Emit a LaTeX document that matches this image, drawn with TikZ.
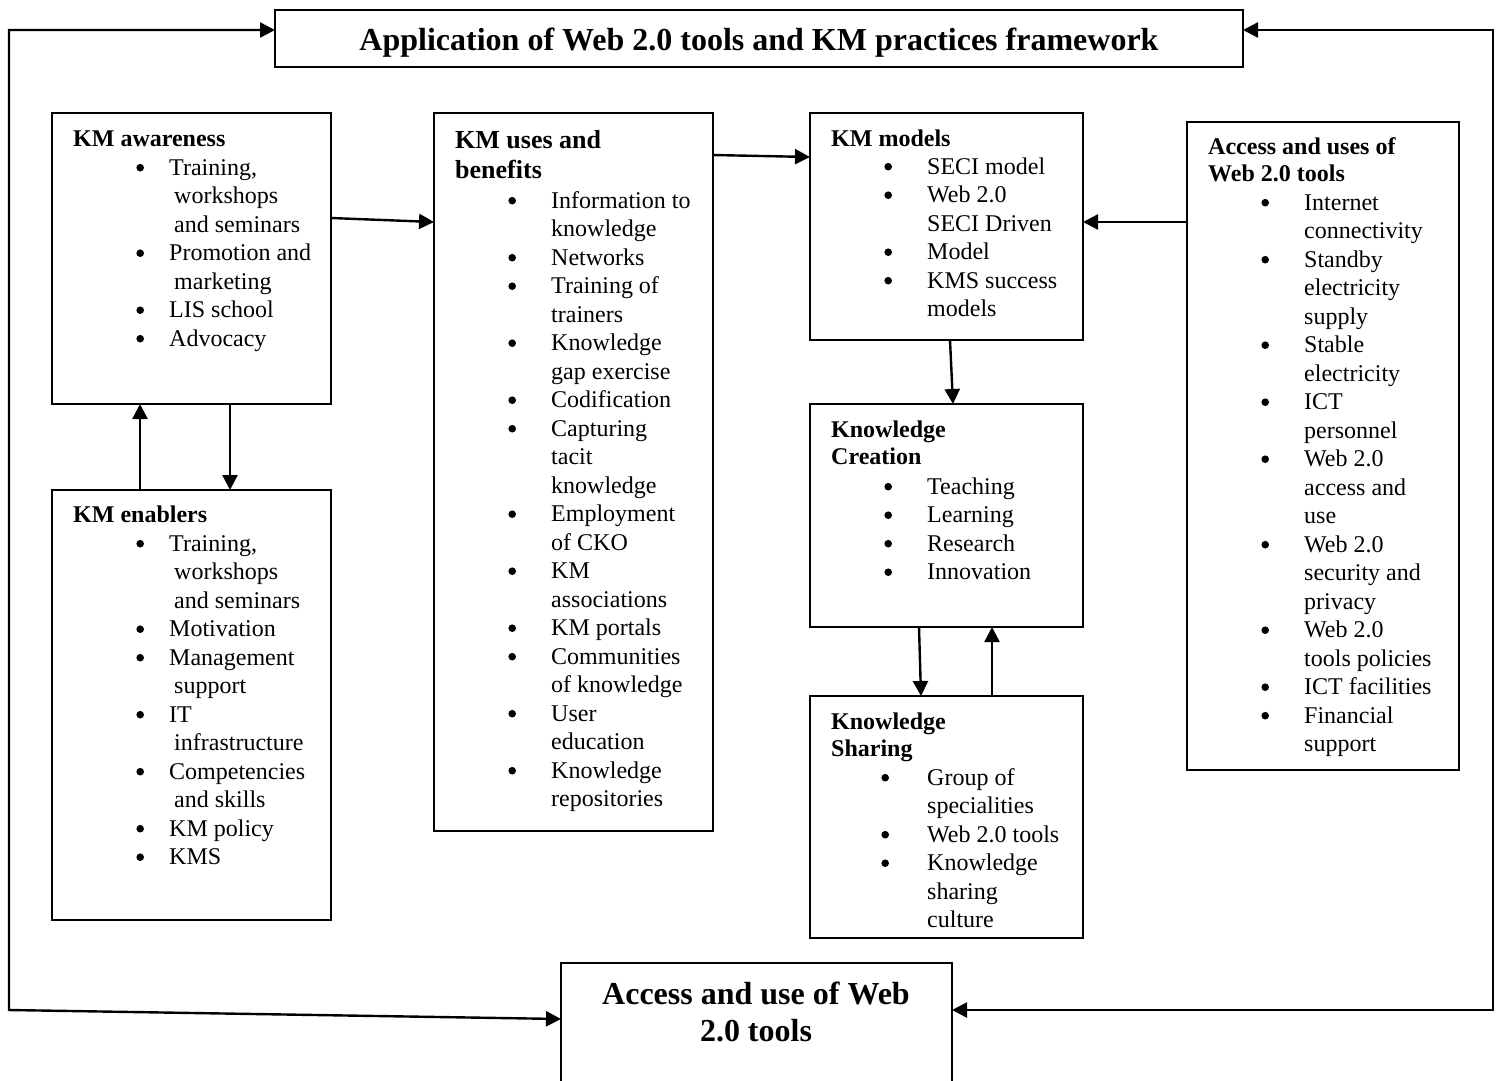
\documentclass[tikz,border=0pt]{standalone}
\usepackage{fontspec}
\setmainfont{Liberation Serif}
\usetikzlibrary{arrows.meta,calc}

% distance from a bullet's centre to the start of its item text
\newlength\bgap
\newcommand\bigbullet{\raisebox{3.5pt}{\tikz\fill (0pt,0pt) circle[radius=3.8pt];}}
\newcommand\bitem{\llap{\makebox[0pt]{\bigbullet}\hspace{\bgap}}}
\newcommand\cont{\hspace{5pt}}

\tikzset{
  box/.style={draw, line width=1.6pt, inner sep=0pt, outer sep=0pt, anchor=north west},
  head/.style={font=\fontsize{24}{27.5}\selectfont\bfseries, anchor=base west, inner sep=0pt},
  items/.style={font=\fontsize{24}{28.5}\selectfont, anchor=base west, inner sep=0pt,
    execute at begin node={\setlength\bgap{#1}}},
  link/.style={line width=2.4pt, -{Triangle[length=15pt,width=15pt]}},
  link2/.style={line width=2.4pt, {Triangle[length=15pt,width=15pt]}-{Triangle[length=15pt,width=15pt]}},
}

\begin{document}
\begin{tikzpicture}[x=1pt,y=-1pt]
\useasboundingbox (0,0) rectangle (1496,1080);
\clip (0,0) rectangle (1496,1080);

% framework title
\node[box, minimum width=968pt, minimum height=57pt] (title) at (275,10) {};
\node[font=\fontsize{32}{37}\selectfont\bfseries, anchor=base, inner sep=0pt] (titletext) at (759,50)
  {Application of Web 2.0 tools and KM practices framework};

% KM awareness
\node[box, minimum width=279pt, minimum height=291pt] (aware) at (52,113) {};
\node[head] (awareh) at (73,146) {KM awareness};
\node[items=29pt] (awarel) at (169,175) {\begin{tabular}[t]{@{}l@{}}
  \bitem Training,\\ \cont workshops\\ \cont and seminars\\
  \bitem Promotion and\\ \cont marketing\\
  \bitem LIS school\\
  \bitem Advocacy\end{tabular}};

% KM enablers
\node[box, minimum width=279pt, minimum height=430pt] (enab) at (52,490) {};
\node[head] (enabh) at (73,522) {KM enablers};
\node[items=29pt] (enabl) at (169,551) {\begin{tabular}[t]{@{}l@{}}
  \bitem Training,\\ \cont workshops\\ \cont and seminars\\
  \bitem Motivation\\
  \bitem Management\\ \cont support\\
  \bitem IT\\ \cont infrastructure\\
  \bitem Competencies\\ \cont and skills\\
  \bitem KM policy\\
  \bitem KMS\end{tabular}};

% KM uses and benefits
\node[box, minimum width=279pt, minimum height=718pt] (uses) at (434,113) {};
\node[font=\fontsize{26}{30}\selectfont\bfseries, anchor=base west, inner sep=0pt] (usesh) at (455,148)
  {\begin{tabular}[t]{@{}l@{}}KM uses and\\ benefits\end{tabular}};
\node[items=39pt] (usesl) at (551,208) {\begin{tabular}[t]{@{}l@{}}
  \bitem Information to\\ knowledge\\
  \bitem Networks\\
  \bitem Training of\\ trainers\\
  \bitem Knowledge\\ gap exercise\\
  \bitem Codification\\
  \bitem Capturing\\ tacit\\ knowledge\\
  \bitem Employment\\ of CKO\\
  \bitem KM\\ associations\\
  \bitem KM portals\\
  \bitem Communities\\ of knowledge\\
  \bitem User\\ education\\
  \bitem Knowledge\\ repositories\end{tabular}};

% KM models
\node[box, minimum width=273pt, minimum height=227pt] (models) at (810,113) {};
\node[head] (modelsh) at (831,146) {KM models};
\node[items=39pt] (modelsl) at (927,174) {\begin{tabular}[t]{@{}l@{}}
  \bitem SECI model\\
  \bitem Web 2.0\\ SECI Driven\\
  \bitem Model\\
  \bitem KMS success\\ models\end{tabular}};

% Knowledge creation
\node[box, minimum width=273pt, minimum height=223pt] (create) at (810,404) {};
\node[head] (createh) at (831,437) {\begin{tabular}[t]{@{}l@{}}Knowledge\\ Creation\end{tabular}};
\node[items=39pt] (createl) at (927,494) {\begin{tabular}[t]{@{}l@{}}
  \bitem Teaching\\
  \bitem Learning\\
  \bitem Research\\
  \bitem Innovation\end{tabular}};

% Knowledge sharing
\node[box, minimum width=273pt, minimum height=242pt] (share) at (810,696) {};
\node[head] (shareh) at (831,729) {\begin{tabular}[t]{@{}l@{}}Knowledge\\ Sharing\end{tabular}};
\node[items=42pt] (sharel) at (927,785) {\begin{tabular}[t]{@{}l@{}}
  \bitem Group of\\ specialities\\
  \bitem Web 2.0 tools\\
  \bitem Knowledge\\ sharing\\ culture\end{tabular}};

% Access and uses of Web 2.0 tools
\node[box, minimum width=272pt, minimum height=648pt] (access) at (1187,122) {};
\node[head] (accessh) at (1208,154) {\begin{tabular}[t]{@{}l@{}}Access and uses of\\ Web 2.0 tools\end{tabular}};
\node[items=39pt] (accessl) at (1304,210) {\begin{tabular}[t]{@{}l@{}}
  \bitem Internet\\ connectivity\\
  \bitem Standby\\ electricity\\ supply\\
  \bitem Stable\\ electricity\\
  \bitem ICT\\ personnel\\
  \bitem Web 2.0\\ access and\\ use\\
  \bitem Web 2.0\\ security and\\ privacy\\
  \bitem Web 2.0\\ tools policies\\
  \bitem ICT facilities\\
  \bitem Financial\\ support\end{tabular}};

% outcome box, running off the lower edge
\node[box, minimum width=391pt, minimum height=200pt] (bottom) at (561,963) {};
\node[font=\fontsize{32}{37}\selectfont\bfseries, anchor=base, inner sep=0pt] (bottomtext) at (756,1004)
  {\begin{tabular}[t]{@{}c@{}}Access and use of Web\\ 2.0 tools\end{tabular}};

% connectors between the boxes
\draw[link] ($(aware.north east)+(0,105)$) -- ($(uses.north west)+(0,109)$);
\draw[link] ($(uses.north east)+(0,42)$) -- ($(models.north west)+(0,44)$);
\draw[link] ($(access.north west)+(0,100)$) -- ($(models.north east)+(0,109)$);
\draw[link] ($(models.south west)+(140,0)$) -- ($(create.north west)+(143,0)$);
\draw[link] ($(enab.north west)+(88,0)$) -- ($(aware.south west)+(88,0)$);
\draw[link] ($(aware.south west)+(178,0)$) -- ($(enab.north west)+(178,0)$);
\draw[link] ($(create.south west)+(109,0)$) -- ($(share.north west)+(111,0)$);
\draw[link] ($(share.north west)+(182,0)$) -- ($(create.south west)+(182,0)$);

% outer loops linking the framework title with the outcome box
\coordinate (oL1) at (9,30);
\coordinate (oL2) at (9,1010);
\coordinate (oR1) at (1493,30);
\coordinate (oR2) at (1493,1010);
\draw[link2] (oL1 -| title.west) -- (oL1) -- (oL2) -- ($(bottom.north west)+(0,56)$);
\draw[link2] (oR1 -| title.east) -- (oR1) -- (oR2) -- (oR2 -| bottom.east);
\end{tikzpicture}
\end{document}
